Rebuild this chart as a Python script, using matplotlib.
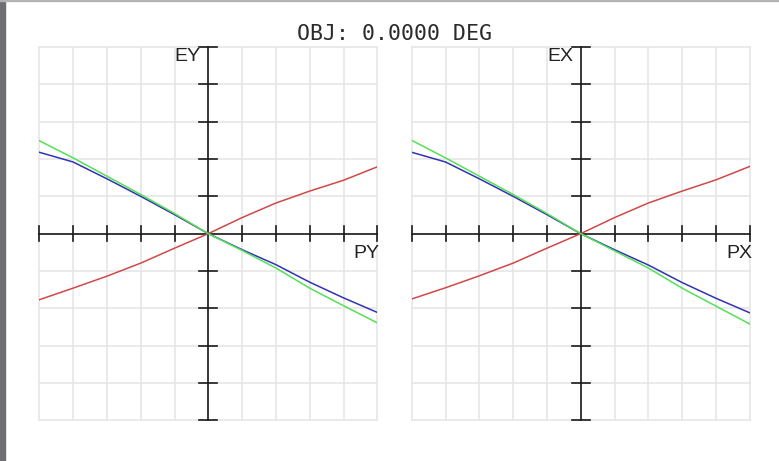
import numpy as np
import matplotlib.pyplot as plt
from matplotlib.patches import Rectangle

# normalized pupil coordinate
pupil = [-1.0, -0.8, -0.6, -0.4, -0.2, 0.0, 0.2, 0.4, 0.6, 0.8, 1.0]

# tangential fan: EY vs PY (grid divisions)
ey_red = [-1.77, -1.46, -1.14, -0.79, -0.39, 0.0, 0.43, 0.82, 1.14, 1.43, 1.79]
ey_green = [2.49, 2.03, 1.54, 1.05, 0.54, 0.0, -0.45, -0.92, -1.46, -1.93, -2.39]
ey_blue = [2.18, 1.92, 1.47, 1.00, 0.51, 0.0, -0.43, -0.83, -1.30, -1.72, -2.11]

# sagittal fan: EX vs PX (on axis, same as tangential)
ex_red = [-1.75, -1.45, -1.13, -0.79, -0.39, 0.0, 0.43, 0.82, 1.14, 1.44, 1.80]
ex_green = [2.50, 2.03, 1.54, 1.05, 0.54, 0.0, -0.46, -0.92, -1.46, -1.94, -2.42]
ex_blue = [2.18, 1.92, 1.47, 1.00, 0.51, 0.0, -0.43, -0.84, -1.31, -1.73, -2.12]

RED = "#d04848"
GREEN = "#55e055"
BLUE = "#3232b4"
GRID = "#e6e6e6"
AXC = "#1a1a1a"


def fan(ax, x, curves, ylab, xlab):
    ax.set_xlim(-1, 1)
    ax.set_ylim(-5, 5)
    ax.axis("off")
    for gx in np.linspace(-1, 1, 11):
        ax.axvline(gx, color=GRID, lw=1.2, clip_on=False, zorder=0)
    for gy in range(-5, 6):
        ax.axhline(gy, color=GRID, lw=1.2, clip_on=False, zorder=0)

    # black axes with cross ticks
    ax.plot([0, 0], [-5, 5], color=AXC, lw=1.2, clip_on=False, zorder=2)
    ax.plot([-1, 1], [0, 0], color=AXC, lw=1.2, clip_on=False, zorder=2)
    for gy in range(-5, 6):
        if gy != 0:
            ax.plot([-0.054, 0.054], [gy, gy], color=AXC, lw=1.2, clip_on=False, zorder=2)
    for gx in np.linspace(-1, 1, 11):
        if abs(gx) > 1e-9:
            ax.plot([gx, gx], [-0.2, 0.2], color=AXC, lw=1.2, clip_on=False, zorder=2)

    for y, c in curves:
        ax.plot(x, y, color=c, lw=1.1, zorder=3)

    ax.text(-0.045, 4.97, ylab, ha="right", va="top", fontsize=14,
            family="Liberation Sans", color="#222222")
    ax.text(1.015, -0.3, xlab, ha="right", va="top", fontsize=14,
            family="Liberation Sans", color="#222222")


fig = plt.figure(figsize=(7.79, 4.61), dpi=100)
W, H = 779, 461

ax1 = fig.add_axes([39.3 / W, (H - 420.3) / H, 338 / W, 373.3 / H])
ax2 = fig.add_axes([411.7 / W, (H - 420.3) / H, 338 / W, 373.3 / H])

fan(ax1, pupil, [(ey_red, RED), (ey_blue, BLUE), (ey_green, GREEN)], "EY", "PY")
fan(ax2, pupil, [(ex_red, RED), (ex_blue, BLUE), (ex_green, GREEN)], "EX", "PX")

fig.text(394.5 / W, 1 - 34.5 / H, "OBJ: 0.0000 DEG", ha="center", va="center",
         fontsize=15.5, family="DejaVu Sans Mono", color="#2a2a2a")

# window frame bits
fig.patches.append(Rectangle((0, 0), 5 / W, 1, transform=fig.transFigure,
                             color="#6f6f74", zorder=5))
fig.patches.append(Rectangle((0, 1 - 1.5 / H), 1, 1.5 / H, transform=fig.transFigure,
                             color="#b4b4b4", zorder=5))

fig.savefig("out.png", dpi=100)
